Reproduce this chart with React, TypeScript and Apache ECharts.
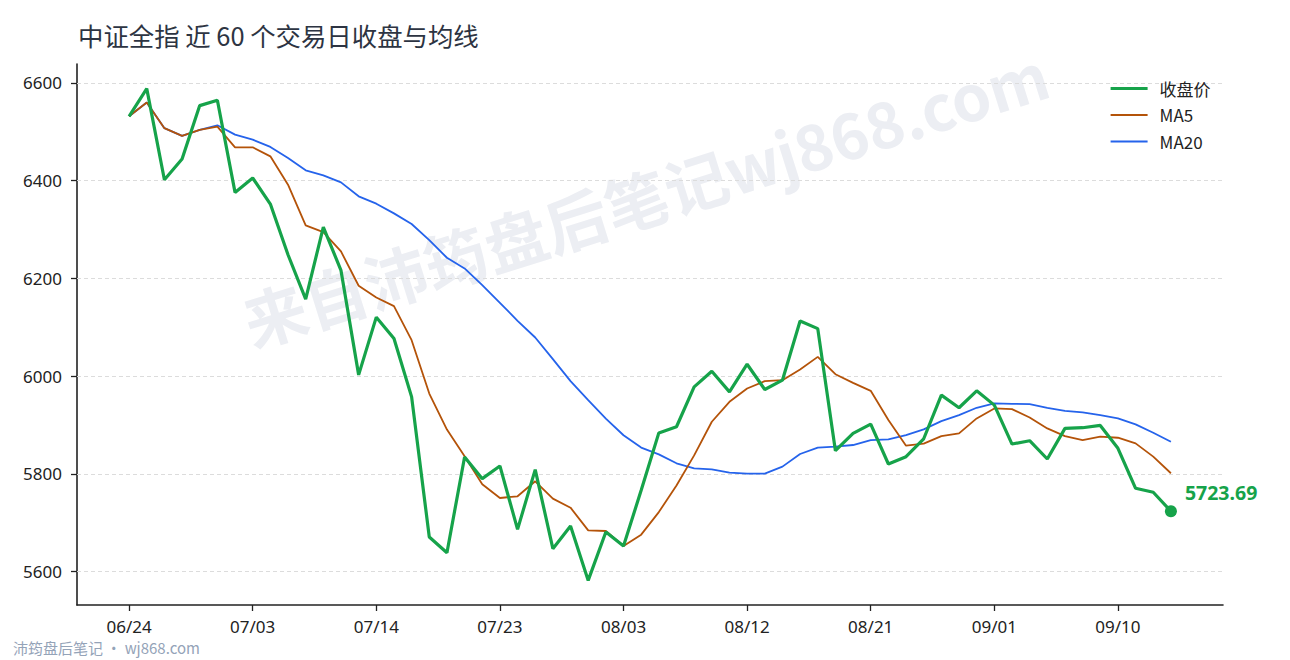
import React, { useEffect, useRef } from "react";
import * as echarts from "echarts";

const dates = [
  "06/24", "06/25", "06/26", "06/27", "06/30", "07/01", "07/02",
  "07/03", "07/04", "07/07", "07/08", "07/09", "07/10", "07/11",
  "07/14", "07/15", "07/16", "07/17", "07/18", "07/21", "07/22",
  "07/23", "07/24", "07/25", "07/28", "07/29", "07/30", "07/31",
  "08/03", "08/04", "08/05", "08/06", "08/07", "08/08", "08/11",
  "08/12", "08/13", "08/14", "08/15", "08/18", "08/19", "08/20",
  "08/21", "08/22", "08/25", "08/26", "08/27", "08/28", "08/29",
  "09/01", "09/02", "09/03", "09/04", "09/05", "09/08", "09/09",
  "09/10", "09/11", "09/12", "09/15",
];

const closeValues = [
  6531.7, 6588.4, 6402.0, 6444.4, 6553.6, 6564.5, 6376.0, 6405.5, 6352.2, 6248.5,
  6157.7, 6305.0, 6216.4, 6002.7, 6120.8, 6077.1, 5957.7, 5671.0, 5638.9, 5834.8,
  5790.4, 5816.4, 5686.7, 5808.9, 5647.1, 5693.5, 5582.2, 5681.2, 5652.5, 5766.5,
  5884.0, 5896.6, 5978.2, 6010.2, 5968.0, 6024.5, 5972.8, 5991.8, 6112.9, 6097.3,
  5847.6, 5883.0, 5902.0, 5820.4, 5835.4, 5872.0, 5961.2, 5935.4, 5970.1, 5940.8,
  5861.2, 5868.0, 5830.6, 5893.2, 5894.6, 5899.3, 5852.4, 5770.7, 5762.6, 5723.69,
];

const ma5Values = [
  6531.7, 6560.1, 6507.4, 6491.6, 6504.0, 6510.6, 6468.3, 6468.3, 6449.8, 6391.8,
  6308.5, 6294.9, 6255.3, 6185.0, 6161.1, 6143.3, 6073.7, 5964.5, 5890.8, 5836.0,
  5778.8, 5750.8, 5754.3, 5785.0, 5749.5, 5731.0, 5684.6, 5683.3, 5652.5, 5675.8,
  5722.0, 5776.3, 5838.0, 5906.8, 5947.6, 5974.8, 5989.8, 5991.8, 6013.6, 6039.5,
  6004.1, 5986.4, 5970.1, 5910.2, 5857.8, 5862.0, 5877.5, 5883.0, 5913.6, 5934.0,
  5932.7, 5915.6, 5893.2, 5877.5, 5869.4, 5876.2, 5874.1, 5862.6, 5835.4, 5801.4,
];

const ma20Values = [
  6531.7, 6560.1, 6507.4, 6491.6, 6504.0, 6513.3, 6494.2, 6484.0, 6469.0, 6446.4,
  6421.2, 6411.0, 6396.6, 6368.0, 6352.9, 6333.1, 6311.3, 6278.5, 6242.3, 6220.5,
  6186.3, 6150.2, 6113.3, 6079.2, 6034.8, 5989.8, 5950.9, 5913.3, 5879.2, 5853.9,
  5840.0, 5821.8, 5811.6, 5809.5, 5802.7, 5800.7, 5800.7, 5815.0, 5840.8, 5853.7,
  5855.8, 5859.2, 5869.4, 5870.7, 5879.6, 5891.2, 5908.2, 5920.4, 5935.4, 5944.2,
  5943.5, 5942.9, 5935.4, 5929.2, 5925.8, 5920.4, 5913.6, 5901.4, 5884.4, 5866.0,
];

const yTicks = [5600, 5800, 6000, 6200, 6400, 6600];
const xTickIndices = [0, 7, 14, 21, 28, 35, 42, 49, 56];

const seriesNames = ["收盘价", "MA5", "MA20"];
const titleText = "中证全指 近 60 个交易日收盘与均线";
const watermarkText = "来自沛筠盘后笔记wj868.com";
const footerText = "沛筠盘后笔记 · wj868.com";

const GREEN = "#16a34a";
const ORANGE = "#b45309";
const BLUE = "#2563eb";

const FONT = "'Noto Sans', 'Noto Sans CJK SC', sans-serif";
const CJK_FONT = "'Noto Sans CJK SC', 'Noto Sans', sans-serif";

export default function App() {
  const ref = useRef<HTMLDivElement>(null);

  useEffect(() => {
    if (!ref.current) return;
    const chart = echarts.init(ref.current, undefined, { renderer: "svg" });

    const all = [...closeValues, ...ma5Values, ...ma20Values];
    const lo = Math.min(...all);
    const hi = Math.max(...all);
    const pad = (hi - lo) * 0.05;
    const n = dates.length;
    const xPad = (n - 1) * 0.05;

    const toPairs = (arr: number[]) => arr.map((v, i) => [i, v]);
    const lastIdx = n - 1;

    const option: any = {
      animation: false,
      backgroundColor: "#ffffff",
      title: {
        text: titleText,
        left: 73,
        top: 17,
        textStyle: {
          fontFamily: CJK_FONT,
          fontSize: 25.4,
          fontWeight: "normal",
          color: "#2d3442",
        },
      },
      legend: {
        data: [
          { name: seriesNames[0], lineStyle: { width: 3.2, color: GREEN } },
          { name: seriesNames[1], lineStyle: { width: 1.8, color: ORANGE } },
          { name: seriesNames[2], lineStyle: { width: 1.8, color: BLUE } },
        ],
        orient: "vertical",
        left: 1104,
        top: 75,
        itemWidth: 37,
        itemHeight: 14,
        itemGap: 9.5,
        itemStyle: { opacity: 0 },
        textStyle: {
          fontFamily: CJK_FONT,
          fontSize: 17,
          lineHeight: 16,
          color: "#222222",
          padding: [0, 0, 0, 7],
        },
      },
      grid: {
        left: 77,
        right: 67,
        top: 64,
        bottom: 55,
        containLabel: false,
      },
      xAxis: {
        type: "value",
        min: -xPad,
        max: lastIdx + xPad,
        axisLine: { show: true, onZero: false, lineStyle: { color: "#222222", width: 1.6 } },
        axisTick: {
          show: true,
          length: 6,
          customValues: xTickIndices,
          lineStyle: { color: "#222222", width: 1.3 },
        },
        axisLabel: {
          customValues: xTickIndices,
          formatter: (v: number) => dates[Math.round(v)] ?? "",
          fontFamily: FONT,
          fontSize: 17,
          color: "#222222",
          margin: 13,
        },
        splitLine: { show: false },
      },
      yAxis: {
        type: "value",
        min: lo - pad,
        max: hi + pad,
        axisLine: { show: true, onZero: false, lineStyle: { color: "#222222", width: 1.6 } },
        axisTick: {
          show: true,
          length: 6,
          customValues: yTicks,
          lineStyle: { color: "#222222", width: 1.3 },
        },
        axisLabel: {
          customValues: yTicks,
          formatter: (v: number) => (yTicks.includes(Math.round(v)) ? String(Math.round(v)) : ""),
          fontFamily: FONT,
          fontSize: 17,
          color: "#222222",
          margin: 15,
        },
        splitLine: { show: false },
      },
      graphic: [
        {
          type: "text",
          x: 645,
          y: 196,
          rotation: 0.305,
          z: 0,
          silent: true,
          style: {
            text: watermarkText,
            fontFamily: CJK_FONT,
            fontSize: 63,
            fontWeight: "bold",
            fill: "#eceef3",
            align: "center",
            verticalAlign: "middle",
          },
        },
        {
          type: "text",
          left: 13,
          top: 640,
          silent: true,
          style: {
            text: footerText,
            fontFamily: CJK_FONT,
            fontSize: 15,
            lineHeight: 15,
            fill: "#94a3b8",
          },
        },
      ],
      series: [
        {
          name: "gridlines",
          type: "line",
          data: [],
          z: 1,
          silent: true,
          markLine: {
            silent: true,
            symbol: ["none", "none"],
            label: { show: false },
            z: 1,
            lineStyle: { type: [4, 3], color: "#dcdcdc", width: 1 },
            data: yTicks.map((v) => ({ yAxis: v })),
          },
        },
        {
          name: "MA20",
          type: "line",
          data: toPairs(ma20Values),
          symbol: "none",
          z: 3,
          lineStyle: { color: BLUE, width: 1.8 },
          itemStyle: { color: BLUE },
        },
        {
          name: "MA5",
          type: "line",
          data: toPairs(ma5Values),
          symbol: "none",
          z: 4,
          lineStyle: { color: ORANGE, width: 1.8 },
          itemStyle: { color: ORANGE },
        },
        {
          name: "收盘价",
          type: "line",
          data: toPairs(closeValues),
          symbol: "none",
          z: 5,
          lineStyle: { color: GREEN, width: 3.2 },
          itemStyle: { color: GREEN },
        },
        {
          name: "last",
          type: "scatter",
          z: 6,
          symbol: "circle",
          symbolSize: 12,
          itemStyle: { color: GREEN, opacity: 1 },
          data: [[lastIdx, closeValues[lastIdx]]],
          label: {
            show: true,
            position: "right",
            offset: [3, -19],
            formatter: (p: any) => Number(p.value[1]).toFixed(2),
            fontFamily: FONT,
            fontSize: 19.5,
            fontWeight: "bold",
            color: GREEN,
            opacity: 1,
          },
        },
      ],
    };

    chart.setOption(option);
    return () => chart.dispose();
  }, []);

  return (
    <div
      ref={ref}
      style={{ position: "absolute", left: 0, top: 0, width: 1290, height: 660 }}
    />
  );
}
